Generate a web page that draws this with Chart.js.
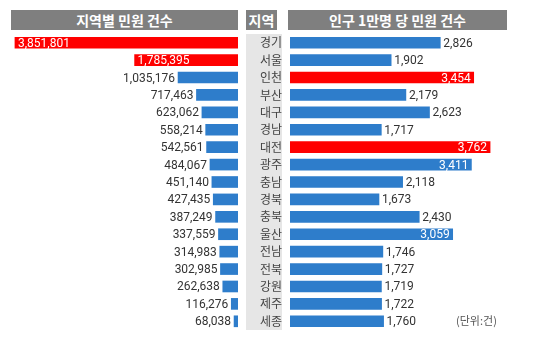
<!DOCTYPE html>
<html>
<head>
    <meta charset="utf-8">
    <title>지역별 민원 건수</title>
    <script src="https://cdn.jsdelivr.net/npm/chart.js"></script>
    <style>
        body { margin: 0; background: #fff; font-family: Roboto, "Noto Sans CJK KR", sans-serif; }
        #wrap { position: relative; width: 544px; height: 342px; overflow: hidden; }
        .head { position: absolute; top: 10px; height: 20px; line-height: 20px; background: #7f7f7f; color: #fff;
                font: bold 14px "Noto Sans CJK KR", sans-serif; text-align: center; }
        #col { position: absolute; left: 246px; top: 34px; width: 36px; height: 296px; background: #e6e6e6; }
        canvas { position: absolute; top: 0; }
        #unit { position: absolute; left: 456px; top: 312px; font: 11px "Noto Sans CJK KR", sans-serif; color: #555; }
    </style>
</head>
<body>
<div id="wrap">
    <div class="head" style="left:11px; width:227px;">지역별 민원 건수</div>
    <div class="head" style="left:246px; width:31px;">지역</div>
    <div class="head" style="left:288px; width:219px;">인구 1만명 당 민원 건수</div>
    <div id="col"></div>
    <canvas id="leftChart" width="284" height="342" style="left:0;"></canvas>
    <canvas id="rightChart" width="260" height="342" style="left:284px;"></canvas>
    <div id="unit">(단위:건)</div>
</div>
<script>
    const regions = ["경기", "서울", "인천", "부산", "대구", "경남", "대전", "광주", "충남", "경북", "충북", "울산", "전남", "전북", "강원", "제주", "세종"];
    const complaints = [3851801, 1785395, 1035176, 717463, 623062, 558214, 542561, 484067, 451140, 427435, 387249, 337559, 314983, 302985, 262638, 116276, 68038];
    const perTenThousand = [2826, 1902, 3454, 2179, 2623, 1717, 3762, 3411, 2118, 1673, 2430, 3059, 1746, 1727, 1719, 1722, 1760];
    const leftRed = ["경기", "서울"];
    const rightRed = ["인천", "대전"];

    const RED = "#ff0000", BLUE = "#2e7dcb";

    // draws the value next to / inside each bar
    const valueLabels = {
        id: "valueLabels",
        afterDatasetsDraw(chart, args, opts) {
            const ctx = chart.ctx;
            const meta = chart.getDatasetMeta(0);
            const data = chart.data.datasets[0].data;
            ctx.save();
            ctx.font = "12px Roboto, 'Noto Sans CJK KR', sans-serif";
            ctx.textBaseline = "middle";
            meta.data.forEach((bar, i) => {
                const v = data[i];
                const txt = v.toLocaleString("en-US");
                const inside = v > opts.inside;
                const dir = opts.reversed ? -1 : 1;
                if (inside) {
                    ctx.fillStyle = "#fff";
                    ctx.textAlign = opts.reversed ? "left" : "right";
                    ctx.fillText(txt, bar.x - dir * 3, bar.y + 1);
                } else {
                    ctx.fillStyle = "#333";
                    ctx.textAlign = opts.reversed ? "right" : "left";
                    ctx.fillText(txt, bar.x + dir * 3, bar.y + 1);
                }
            });
            ctx.restore();
        }
    };

    new Chart(document.getElementById("leftChart"), {
        type: "bar",
        data: {
            labels: regions,
            datasets: [{
                data: complaints,
                backgroundColor: regions.map(r => leftRed.includes(r) ? RED : BLUE),
                borderWidth: 0,
                barThickness: 11
            }]
        },
        options: {
            indexAxis: "y",
            responsive: false,
            animation: false,
            events: [],
            layout: { padding: { left: 11, top: 34, bottom: 12 } },
            plugins: {
                legend: { display: false },
                tooltip: { enabled: false },
                valueLabels: { inside: 1500000, reversed: true }
            },
            scales: {
                x: { reverse: true, min: 0, max: 3920000, display: false },
                y: {
                    position: "right",
                    grid: { display: false },
                    border: { display: false },
                    afterFit: s => { s.width = 46; s.paddingTop = 0; s.paddingBottom = 0; },
                    ticks: {
                        crossAlign: "center",
                        padding: 14,
                        color: "#444",
                        font: { family: "'Noto Sans CJK KR', sans-serif", size: 12 }
                    }
                }
            }
        },
        plugins: [valueLabels]
    });

    new Chart(document.getElementById("rightChart"), {
        type: "bar",
        data: {
            labels: regions,
            datasets: [{
                data: perTenThousand,
                backgroundColor: regions.map(r => rightRed.includes(r) ? RED : BLUE),
                borderWidth: 0,
                barThickness: 11
            }]
        },
        options: {
            indexAxis: "y",
            responsive: false,
            animation: false,
            events: [],
            layout: { padding: { left: 6, right: 37, top: 34, bottom: 12 } },
            plugins: {
                legend: { display: false },
                tooltip: { enabled: false },
                valueLabels: { inside: 3000, reversed: false }
            },
            scales: {
                x: { min: 0, max: 4080, display: false },
                y: { display: false }
            }
        },
        plugins: [valueLabels]
    });
</script>
</body>
</html>
